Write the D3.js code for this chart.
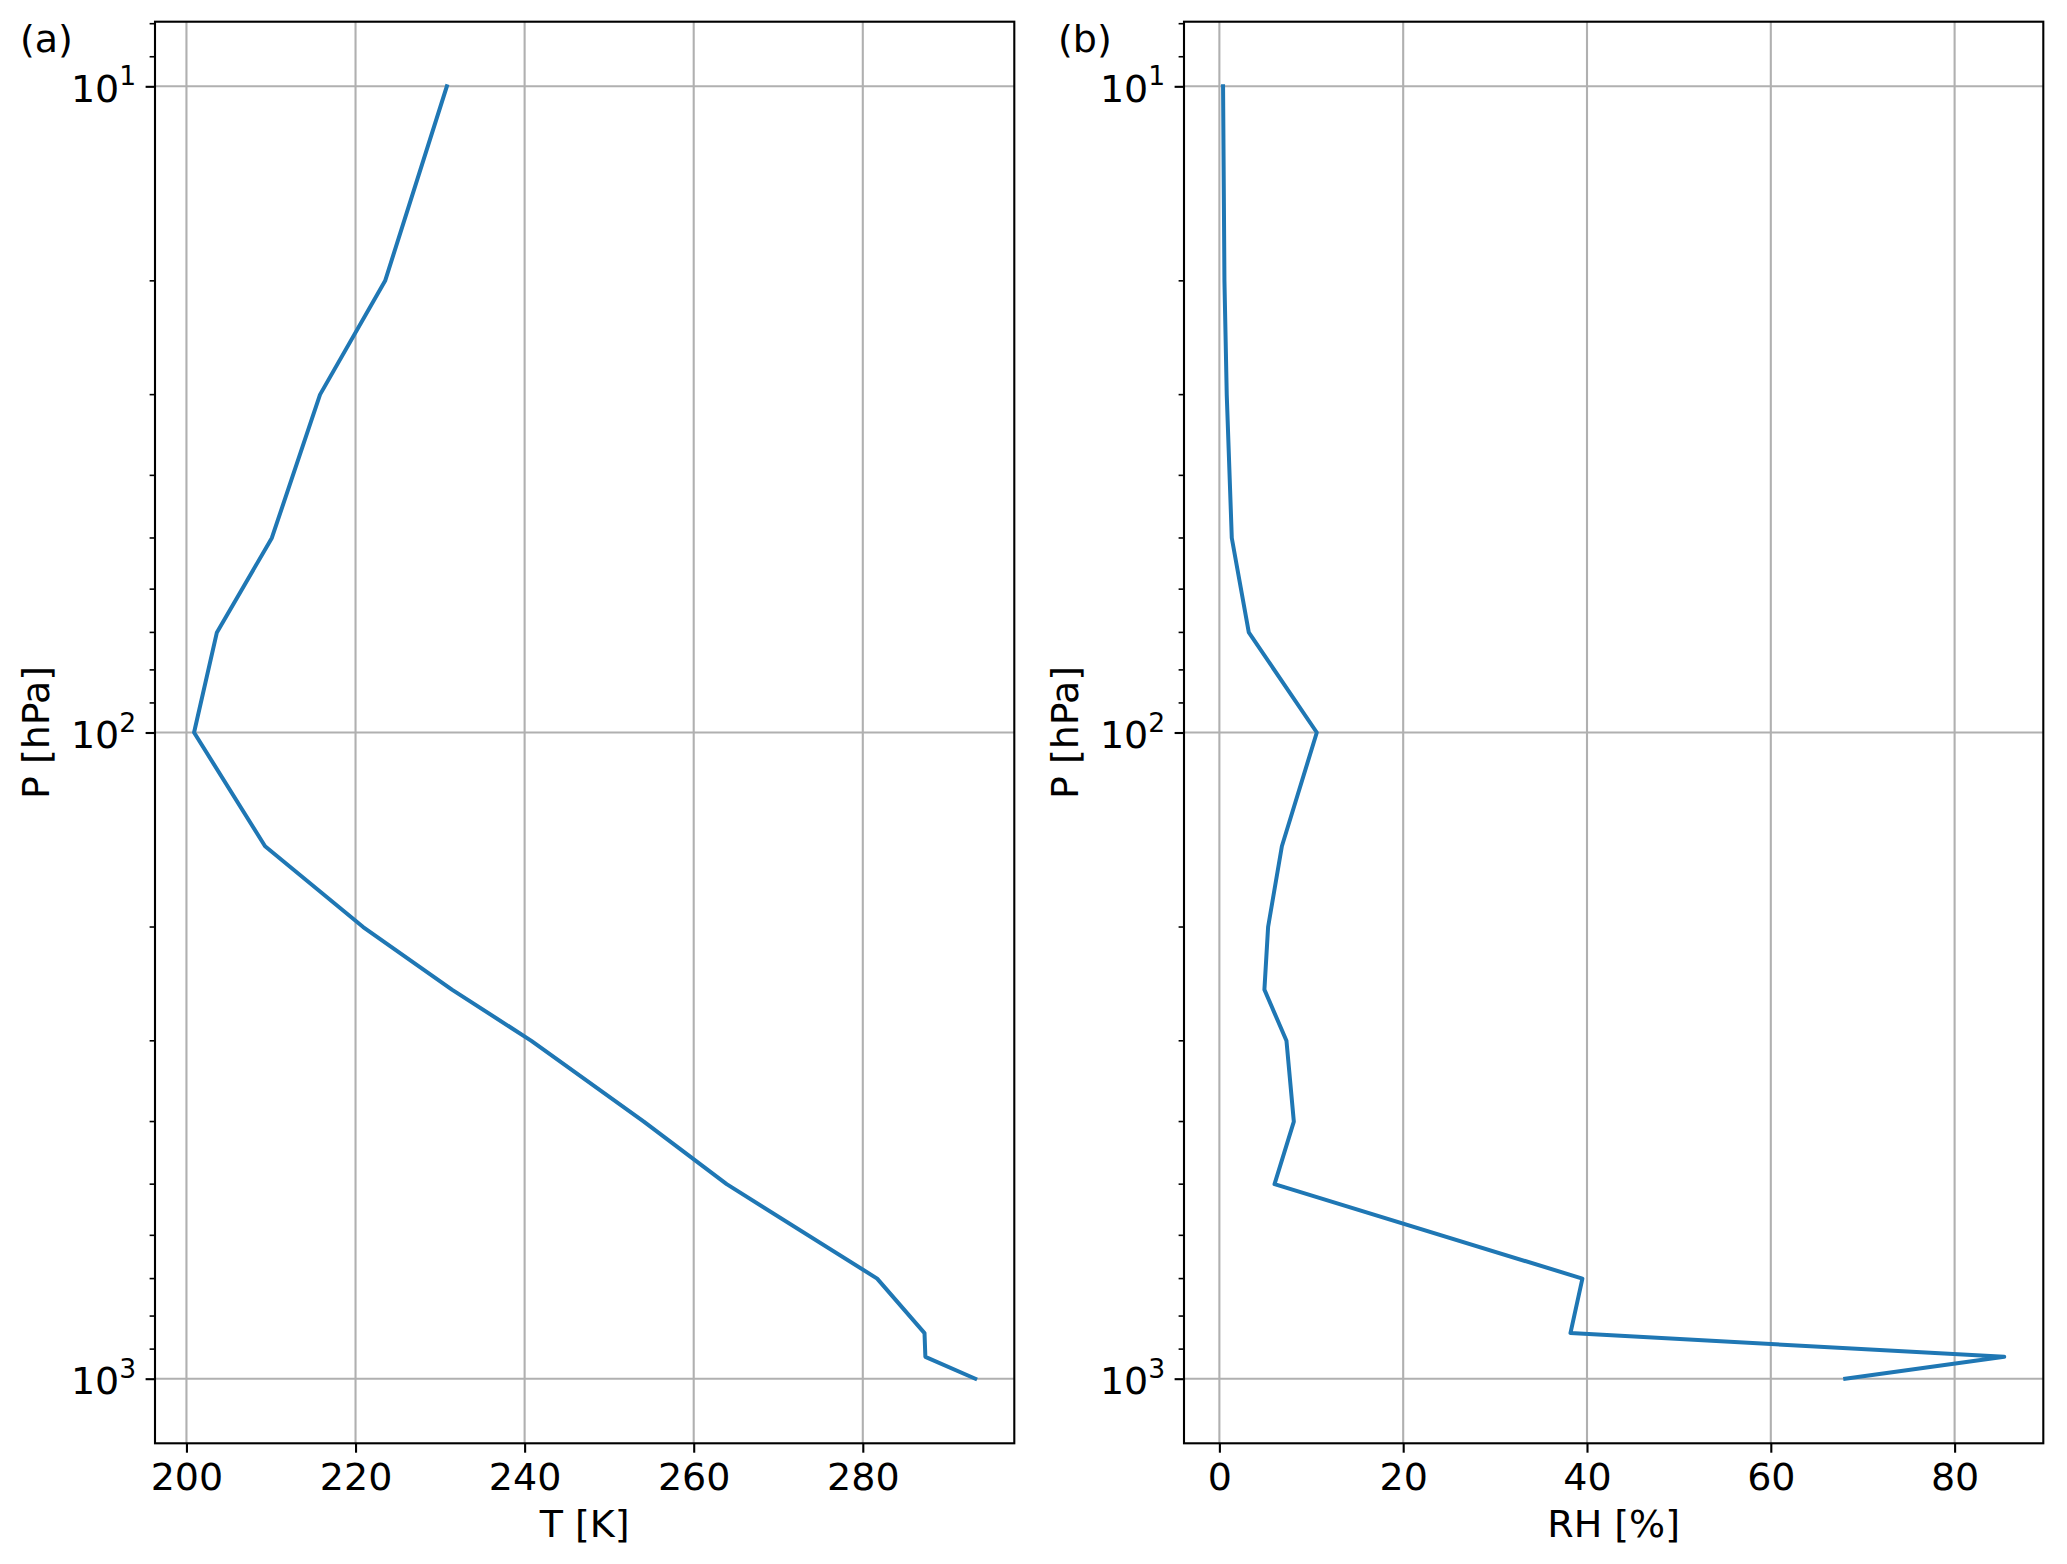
<!DOCTYPE html>
<html>
<head>
<meta charset="utf-8">
<script src="https://cdn.jsdelivr.net/npm/d3@7"></script>
<style>
  body { margin: 0; background: #fff; }
  text { font-family: "DejaVu Sans", sans-serif; fill: #000; }
</style>
</head>
<body>
<svg id="fig" width="2067" height="1564"></svg>
<script>
// pressure levels of the sounding, hPa
var pressure = [10, 20, 30, 50, 70, 100, 150, 200, 250, 300, 400, 500, 700, 850, 925, 1000];
// temperature, K
var temperature = [230.8, 223.5, 215.8, 210.1, 203.6, 200.9, 209.3, 220.9, 231.4, 240.8, 254.1, 263.9, 281.7, 287.3, 287.4, 293.3];
// relative humidity, %
var humidity = [0.4, 0.55, 0.8, 1.35, 3.2, 10.6, 6.8, 5.3, 4.9, 7.3, 8.1, 6.0, 39.5, 38.2, 85.4, 68.1];

var tTicks = [200, 220, 240, 260, 280];
var rhTicks = [0, 20, 40, 60, 80];
var pTicks = [10, 100, 1000];

var plotTop = 21.7, plotBottom = 1443.3;
var fontSize = 38;
var tickLen = 9.4, tickPad = 9.4;

var panels = [
	{ left: 155, right: 1014.3, values: temperature, ticks: tTicks, xlabel: 'T [K]', tag: '(a)', tagX: 20 }
, { left: 1184, right: 2043.3, values: humidity, ticks: rhTicks, xlabel: 'RH [%]', tag: '(b)', tagX: 1058 }
];

// matplotlib style 5% margins
function padExtent(vals) {
	var e = d3.extent(vals), r = e[1] - e[0];
	return [e[0] - 0.05 * r, e[1] + 0.05 * r];
}

function logExtent(vals) {
	var e = d3.extent(vals).map(Math.log10), r = e[1] - e[0];
	return [Math.pow(10, e[0] - 0.05 * r), Math.pow(10, e[1] + 0.05 * r)];
}

var svg = d3.select('#fig');
svg.append('rect').attr('width', 2067).attr('height', 1564).attr('fill', '#fff');

panels.forEach(function(p) {
	var x = d3.scaleLinear().domain(padExtent(p.values)).range([p.left, p.right]);
	var y = d3.scaleLog().domain(logExtent(pressure)).range([plotTop, plotBottom]);
	var g = svg.append('g');

	var minor = [];
	var dom = y.domain();
	for (var k = 0; k < 4; k++) {
		for (var m = 2; m < 10; m++) {
			var v = m * Math.pow(10, k);
			if (v >= dom[0] && v <= dom[1]) minor.push(v);
		}
	}

	// grid
	g.append('g').selectAll('line').data(p.ticks).join('line')
		.attr('x1', function(d) { return x(d); }).attr('x2', function(d) { return x(d); })
		.attr('y1', plotTop).attr('y2', plotBottom)
		.attr('stroke', '#b0b0b0').attr('stroke-width', 2.1);
	g.append('g').selectAll('line').data(pTicks).join('line')
		.attr('x1', p.left).attr('x2', p.right)
		.attr('y1', function(d) { return y(d); }).attr('y2', function(d) { return y(d); })
		.attr('stroke', '#b0b0b0').attr('stroke-width', 2.1);

	// profile
	var line = d3.line()
		.x(function(d, i) { return x(p.values[i]); })
		.y(function(d) { return y(d); });
	g.append('path').datum(pressure)
		.attr('d', line)
		.attr('fill', 'none')
		.attr('stroke', '#1f77b4')
		.attr('stroke-width', 4)
		.attr('stroke-linejoin', 'round')
		.attr('stroke-linecap', 'square');

	// spines
	g.append('rect')
		.attr('x', p.left).attr('y', plotTop)
		.attr('width', p.right - p.left).attr('height', plotBottom - plotTop)
		.attr('fill', 'none').attr('stroke', '#000').attr('stroke-width', 2.1);

	// x axis
	var xAxis = d3.axisBottom(x).tickValues(p.ticks).tickSize(tickLen).tickPadding(tickPad).tickSizeOuter(0);
	g.append('g')
		.attr('transform', 'translate(0,' + plotBottom + ')')
		.call(xAxis)
		.attr('font-size', fontSize)
		.call(function(a) { a.select('.domain').remove(); })
		.call(function(a) { a.selectAll('line').attr('stroke-width', 2.1); })
		.call(function(a) { a.selectAll('text').attr('dy', null).attr('y', tickLen + tickPad + 0.729 * fontSize); });

	// y axis: major + minor ticks, labels as 10^n
	var yAxis = d3.axisLeft(y).tickValues(pTicks).tickSize(tickLen).tickFormat('').tickSizeOuter(0);
	g.append('g')
		.attr('transform', 'translate(' + p.left + ',0)')
		.call(yAxis)
		.call(function(a) { a.select('.domain').remove(); })
		.call(function(a) { a.selectAll('line').attr('stroke-width', 2.1); });
	g.append('g').selectAll('line').data(minor).join('line')
		.attr('x1', p.left - 5.4).attr('x2', p.left)
		.attr('y1', function(d) { return y(d); }).attr('y2', function(d) { return y(d); })
		.attr('stroke', '#000').attr('stroke-width', 1.6);

	var labels = g.append('g').selectAll('text').data(pTicks).join('text')
		.attr('x', p.left - tickLen - tickPad)
		.attr('y', function(d) { return y(d) + 15.7; })
		.attr('text-anchor', 'end')
		.attr('font-size', fontSize);
	labels.append('tspan').text('10');
	labels.append('tspan')
		.attr('dy', -16.7)
		.attr('font-size', fontSize * 0.7)
		.text(function(d) { return Math.round(Math.log10(d)); });

	// axis labels
	g.append('text')
		.attr('x', (p.left + p.right) / 2).attr('y', 1536.5)
		.attr('text-anchor', 'middle').attr('font-size', fontSize)
		.text(p.xlabel);
	g.append('text')
		.attr('transform', 'translate(' + (p.left - 106.3) + ',' + ((plotTop + plotBottom) / 2) + ') rotate(-90)')
		.attr('text-anchor', 'middle').attr('font-size', fontSize)
		.text('P [hPa]');

	// panel tag
	g.append('text')
		.attr('x', p.tagX).attr('y', 51.7)
		.attr('font-size', fontSize)
		.text(p.tag);
});
</script>
</body>
</html>
